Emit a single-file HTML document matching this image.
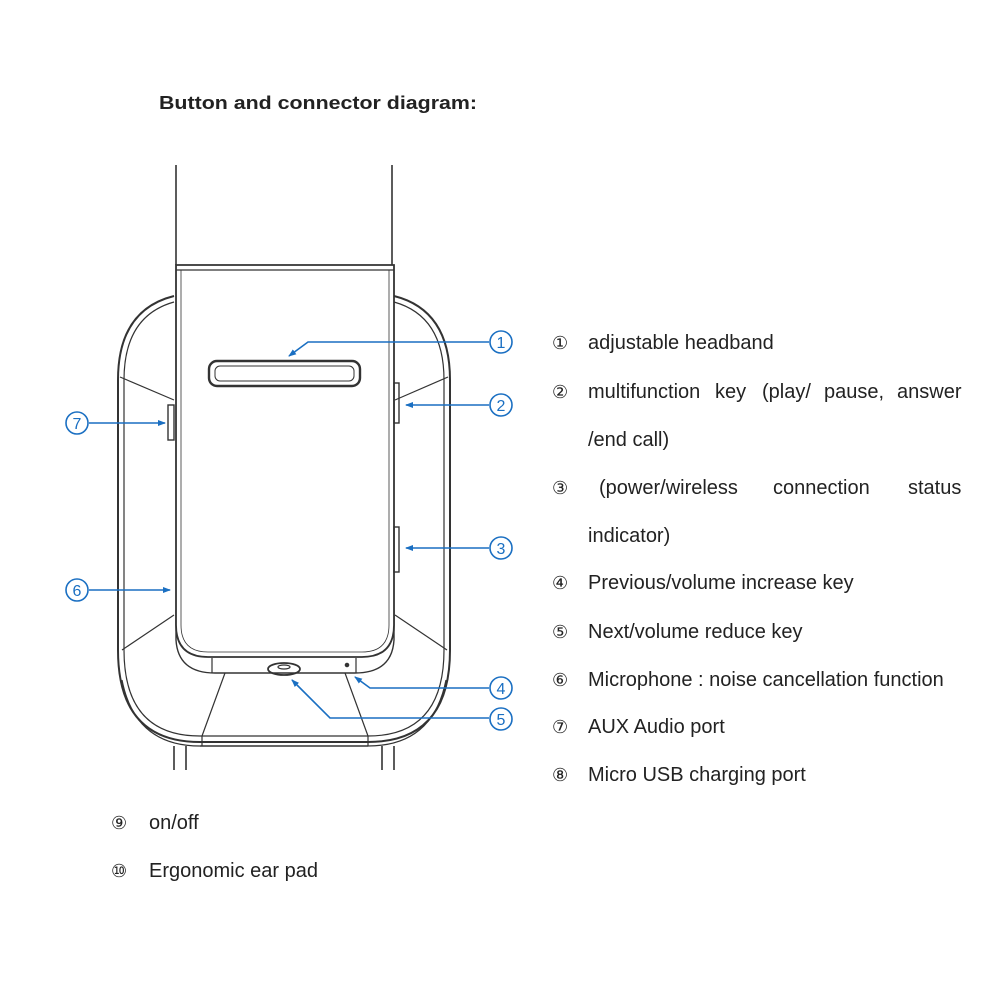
<!DOCTYPE html>
<html><head><meta charset="utf-8"><style>
html,body{margin:0;padding:0;background:#fff;}
svg{display:block;}
text{font-family:"Liberation Sans",sans-serif;fill:#222;}
</style></head><body>
<svg width="1001" height="1001" viewBox="0 0 1001 1001" xmlns="http://www.w3.org/2000/svg">
<defs>
<marker id="ah" markerWidth="8" markerHeight="8" refX="7" refY="4" orient="auto" markerUnits="userSpaceOnUse">
<path d="M0,1 L8,4 L0,7 Z" fill="#1a6fc2"/></marker>
</defs>
<text x="159" y="109" font-size="18" font-weight="bold" fill="#000" textLength="318" lengthAdjust="spacingAndGlyphs">Button and connector diagram:</text>
<g fill="none" stroke="#333" stroke-width="1.6">
<line x1="176" y1="165" x2="176" y2="265"/>
<line x1="392" y1="165" x2="392" y2="265"/>
<path d="M174,296 Q118,310 118,380 L118,650 Q118,742 200,742 L368,742 Q450,742 450,650 L450,380 Q450,310 394,296" stroke-width="2"/>
<path d="M174,302 Q124,316 124,380 L124,650 Q124,736 200,736 L368,736 Q444,736 444,650 L444,380 Q444,316 394,302" stroke-width="1.2"/>
<line x1="200" y1="746" x2="368" y2="746"/>
<path d="M122,680 Q135,746 200,746" stroke-width="1.2"/>
<path d="M446,680 Q433,746 368,746" stroke-width="1.2"/>
<line x1="120" y1="377" x2="174" y2="400" stroke-width="1.2"/>
<line x1="448" y1="377" x2="395" y2="400" stroke-width="1.2"/>
<line x1="174" y1="615" x2="122" y2="650" stroke-width="1.2"/>
<line x1="395" y1="615" x2="447" y2="650" stroke-width="1.2"/>
<line x1="225" y1="673" x2="202" y2="736" stroke-width="1.2"/>
<line x1="345" y1="673" x2="368" y2="736" stroke-width="1.2"/>
<line x1="202" y1="736" x2="202" y2="746" stroke-width="1.2"/>
<line x1="368" y1="736" x2="368" y2="746" stroke-width="1.2"/>
<line x1="174" y1="746" x2="174" y2="770"/>
<line x1="186" y1="746" x2="186" y2="770"/>
<line x1="382" y1="746" x2="382" y2="770"/>
<line x1="394" y1="746" x2="394" y2="770"/>
<path d="M176,610 L176,640 Q178,673 215,673 L355,673 Q392,673 394,640 L394,610" stroke-width="1.4"/>
<line x1="212" y1="658" x2="212" y2="673" stroke-width="1.2"/>
<line x1="356" y1="658" x2="356" y2="673" stroke-width="1.2"/>
<path d="M176,265 L394,265 L394,625 Q394,657 362,657 L208,657 Q176,657 176,625 Z" fill="#fff" stroke-width="1.8"/>
<line x1="176" y1="270" x2="394" y2="270" stroke-width="1.2"/>
<path d="M181,270 L181,625 Q181,652 208,652 L362,652 Q389,652 389,625 L389,270" stroke-width="0.8"/>
<rect x="209" y="361" width="151" height="25" rx="8" stroke-width="2.4"/>
<rect x="215" y="366" width="139" height="15" rx="5" stroke-width="1"/>
<rect x="168" y="405" width="6" height="35" stroke-width="1.4"/>
<rect x="394" y="383" width="5" height="40" stroke-width="1.4"/>
<rect x="394" y="527" width="5" height="45" stroke-width="1.4"/>
<ellipse cx="284" cy="669" rx="16" ry="6" stroke-width="1.8"/>
<ellipse cx="284" cy="667" rx="6" ry="2" stroke-width="1.2"/>
<circle cx="347" cy="665" r="1.5" fill="#333"/>
</g>
<g fill="none" stroke="#1a6fc2" stroke-width="1.6">
<polyline points="489,342 308,342 289,356" marker-end="url(#ah)"/>
<line x1="489" y1="405" x2="406" y2="405" marker-end="url(#ah)"/>
<line x1="489" y1="548" x2="406" y2="548" marker-end="url(#ah)"/>
<polyline points="489,688 370,688 355,677" marker-end="url(#ah)"/>
<polyline points="489,718 330,718 292,680" marker-end="url(#ah)"/>
<line x1="89" y1="423" x2="165" y2="423" marker-end="url(#ah)"/>
<line x1="89" y1="590" x2="170" y2="590" marker-end="url(#ah)"/>
<circle cx="501" cy="342" r="11"/><circle cx="501" cy="405" r="11"/>
<circle cx="501" cy="548" r="11"/><circle cx="501" cy="688" r="11"/>
<circle cx="501" cy="719" r="11"/><circle cx="77" cy="423" r="11"/>
<circle cx="77" cy="590" r="11"/>
</g>
<g font-size="16" text-anchor="middle">
<text x="501" y="348" style="fill:#1a6fc2">1</text><text x="501" y="411" style="fill:#1a6fc2">2</text>
<text x="501" y="554" style="fill:#1a6fc2">3</text><text x="501" y="694" style="fill:#1a6fc2">4</text>
<text x="501" y="725" style="fill:#1a6fc2">5</text><text x="77" y="429" style="fill:#1a6fc2">7</text>
<text x="77" y="596" style="fill:#1a6fc2">6</text>
</g>
<g font-size="20">
<text x="552" y="349" font-size="18">①</text><text x="588" y="349">adjustable headband</text>
<text x="552" y="398" font-size="18">②</text>
<text x="588" y="398">multifunction</text><text x="715" y="398">key</text><text x="762" y="398">(play/</text><text x="824" y="398">pause,</text><text x="897" y="398">answer</text>
<text x="588" y="446">/end call)</text>
<text x="552" y="494" font-size="18">③</text>
<text x="599" y="494">(power/wireless</text><text x="773" y="494">connection</text><text x="908" y="494">status</text>
<text x="588" y="542">indicator)</text>
<text x="552" y="589" font-size="18">④</text><text x="588" y="589">Previous/volume increase key</text>
<text x="552" y="638" font-size="18">⑤</text><text x="588" y="638">Next/volume reduce key</text>
<text x="552" y="686" font-size="18">⑥</text><text x="588" y="686">Microphone : noise cancellation function</text>
<text x="552" y="733" font-size="18">⑦</text><text x="588" y="733">AUX Audio port</text>
<text x="552" y="781" font-size="18">⑧</text><text x="588" y="781">Micro USB charging port</text>
<text x="111" y="829" font-size="18">⑨</text><text x="149" y="829">on/off</text>
<text x="111" y="877" font-size="18">⑩</text><text x="149" y="877">Ergonomic ear pad</text>
</g>
</svg>
</body></html>
